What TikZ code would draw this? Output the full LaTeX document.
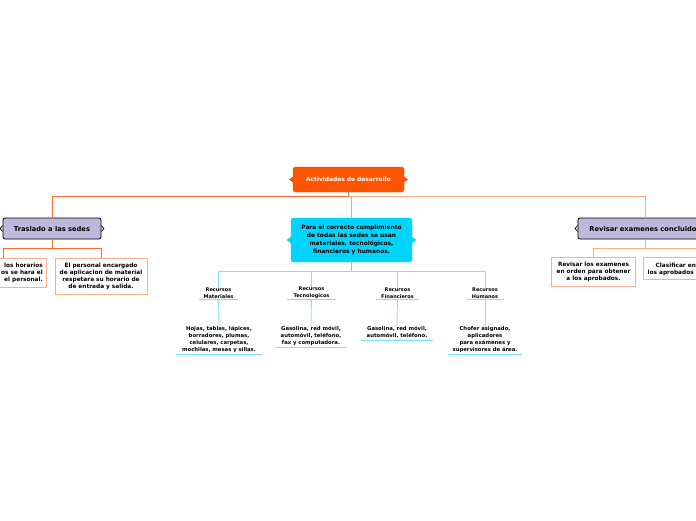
\documentclass[tikz,border=0pt]{standalone}
\usepackage{fontspec}
\setmainfont{DejaVu Sans}
\definecolor{rootor}{HTML}{FF5500}
\definecolor{rootbd}{HTML}{F04A00}
\definecolor{lineor}{HTML}{FF6A30}
\definecolor{lineorl}{HTML}{FFA985}
\definecolor{boxor}{HTML}{FFAE8C}
\definecolor{cyanbox}{HTML}{00D4FF}
\definecolor{cyanln}{HTML}{7FE2F5}
\definecolor{lav}{HTML}{BEB9DC}
\tikzset{
  rootbox/.style={fill=rootor, draw=rootbd, text=white, rounded corners=2.5pt,
    font=\bfseries\fontsize{5.9}{7}\selectfont, minimum width=111pt, minimum height=25pt, inner sep=0pt},
  centbox/.style={fill=cyanbox, draw=cyanbox, text=black, rounded corners=2.5pt, align=center,
    font=\bfseries\fontsize{5.9}{8}\selectfont, minimum width=121pt, minimum height=44pt, inner sep=0pt},
  lavbox/.style={fill=lav, draw=black, line width=0.8pt, rounded corners=2pt,
    font=\bfseries\fontsize{6.7}{7}\selectfont, minimum height=21pt, inner sep=0pt},
  leafbox/.style={fill=white, draw=boxor, line width=0.9pt, align=center,
    font=\bfseries\fontsize{5.8}{7}\selectfont, inner sep=0pt},
  leaftext/.style={font=\bfseries\fontsize{5.8}{7}\selectfont, inner sep=0pt},
  reclabel/.style={align=center, font=\bfseries\fontsize{5}{7}\selectfont, inner sep=0pt},
  recdetail/.style={align=center, font=\bfseries\fontsize{5.3}{7}\selectfont, inner sep=0pt},
  orln/.style={draw=lineor, line width=0.9pt},
  orlnl/.style={draw=lineorl, line width=0.9pt},
  cyln/.style={draw=cyanln, line width=0.8pt},
  cydk/.style={draw=cyanbox!70, line width=0.8pt},
}
\begin{document}
\begin{tikzpicture}[x=1pt,y=-1pt]
\useasboundingbox (0,0) rectangle (696,520);
\clip (0,0) rectangle (696,520);
\fill[white] (0,0) rectangle (696,520);

% hubs
\coordinate (hub) at (349,196);
\coordinate (lhub) at (52,248);
\coordinate (rhub) at (645,248);
\coordinate (bhub) at (351.5,271);

% main nodes
\node[rootbox] (root) at (348.5,179.5) {Actividades de desarrollo};
\node[centbox] (cent) at (351.5,240) {Para el correcto cumplimiento\\de todas las sedes se usan\\materiales, tecnológicos,\\financieros y humanos.};
\node[lavbox, minimum width=98pt] (left) at (52,228.5) {Traslado a las sedes};
\node[lavbox, minimum width=134pt] (right) at (645,228.5) {Revisar examenes concluidos};

% side tips
\fill[rootor] (root.west) ++(0.5,-3) -- ++(-4.5,3) -- ++(4.5,3) -- cycle;
\fill[rootor] (root.east) ++(-0.5,-3) -- ++(4.5,3) -- ++(-4.5,3) -- cycle;
\fill[cyanbox] (cent.west) ++(0.5,-3.5) -- ++(-4.5,3.5) -- ++(4.5,3.5) -- cycle;
\fill[cyanbox] (cent.east) ++(-0.5,-3.5) -- ++(4.5,3.5) -- ++(-4.5,3.5) -- cycle;
\draw[line width=0.7pt] (left.west) ++(0,-3) -- ++(-2.5,3) -- ++(2.5,3);
\draw[line width=0.7pt] (left.east) ++(0,-3) -- ++(2.5,3) -- ++(-2.5,3);
\draw[line width=0.7pt] (right.west) ++(0,-3) -- ++(-2.5,3) -- ++(2.5,3);

% leaf boxes (left)
\node[leafbox, minimum width=86pt, minimum height=29pt] (la) at (3,272.5) {};
\node[leaftext, anchor=east, align=right] (latext) at (43,272.5) {los horarios\\os se hara el\\el personal.};
\node[leafbox, minimum width=92pt, minimum height=36pt] (lb) at (101,276) {El personal encargado\\de aplicacion de material\\respetara su horario de\\de entrada y salida.};
% leaf boxes (right)
\node[leafbox, minimum width=84pt, minimum height=29pt] (ra) at (593.5,271.5) {Revisar los examenes\\en orden para obtener\\a los aprobados.};
\node[leafbox, minimum width=108pt, minimum height=22pt] (rb) at (697,268.5) {};
\node[leaftext, anchor=base west] (rb1) at (655.5,267) {Clasificar en};
\node[leaftext, anchor=base west] (rb2) at (647.5,274) {los aprobados};

% connectors top
\draw[draw=gray!80!rootor, line width=0.9pt] (root.south) -- (hub);
\draw[orln] (hub) -| (left.north);
\draw[orlnl] (hub) -| (right.north);
\draw[cydk] (cent.north |- hub) -- (cent.north);
\draw[orln] (left.south) -- (lhub);
\draw[orln] (lhub) -| (la.north);
\draw[orln] (lhub) -| (lb.north);
\draw[orlnl] (right.south) -- (rhub);
\draw[orlnl] (rhub) -| (ra.north);
\draw[orlnl] (rhub) -| (rb.north);

% recursos labels
\node[reclabel, minimum width=39pt, anchor=south] (m) at (218.5,299) {Recursos\\Materiales};
\node[reclabel, minimum width=49pt, anchor=south] (t) at (311.5,299) {Recursos\\Tecnologicos};
\node[reclabel, minimum width=43pt, anchor=south] (f) at (397.5,299) {Recursos\\Financieros};
\node[reclabel, minimum width=38pt, anchor=south] (h) at (485,299) {Recursos\\Humanos};

\draw[cydk] (cent.south) -- (bhub);
\draw[cyln] (bhub) -| (m.north);
\draw[cyln] (bhub) -| (t.north);
\draw[cyln] (bhub) -| (f.north);
\draw[cyln] (bhub) -| (h.north);
\foreach \n in {m,t,f,h} {\draw[cyln] (\n.south west) -- (\n.south east);}

% details
\node[recdetail, minimum width=86pt, anchor=north] (md) at (219,326) {Hojas, tablas, lápices,\\borradores, plumas,\\celulares, carpetas,\\mochilas, mesas y sillas.};
\node[recdetail, minimum width=70pt, anchor=north] (td) at (311,326) {Gasolina, red móvil,\\automóvil, teléfono,\\fax y computadora.};
\node[recdetail, minimum width=72pt, anchor=north] (fd) at (397,326) {Gasolina, red móvil,\\automóvil, teléfono.};
\node[recdetail, minimum width=74pt, anchor=north] (hd) at (485,326) {Chofer asignado,\\aplicadores\\para exámenes y\\supervisores de área.};
\foreach \n in {md,td,fd,hd} {\draw[cyln] ([yshift=-2pt]\n.south west) -- ([yshift=-2pt]\n.south east);}
\draw[cyln] (m.south) -- (md.north);
\draw[cyln] (t.south) -- (td.north);
\draw[cyln] (f.south) -- (fd.north);
\draw[cyln] (h.south) -- (hd.north);
\end{tikzpicture}
\end{document}
